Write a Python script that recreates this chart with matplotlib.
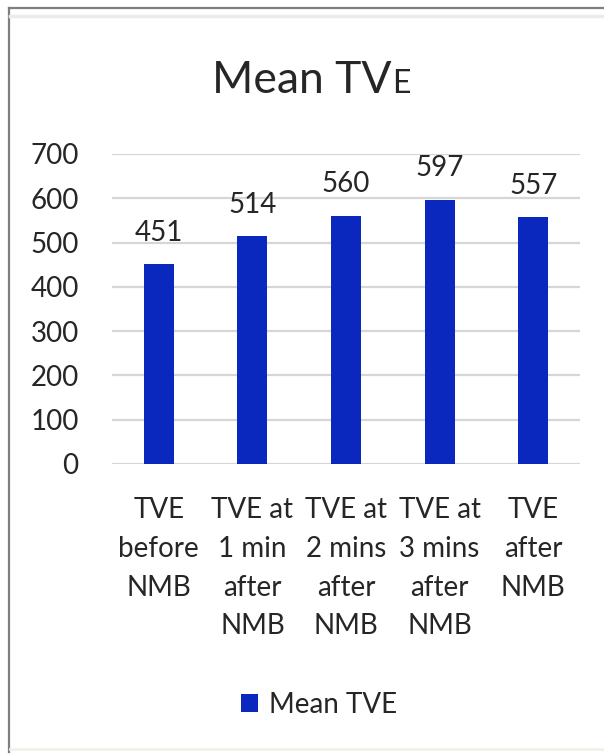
import matplotlib
matplotlib.use("Agg")
import matplotlib.pyplot as plt
from matplotlib.patches import Patch
from matplotlib.lines import Line2D

# Data
categories = [
    "TVE\nbefore\nNMB",
    "TVE at\n1 min\nafter\nNMB",
    "TVE at\n2 mins\nafter\nNMB",
    "TVE at\n3 mins\nafter\nNMB",
    "TVE\nafter\nNMB",
]
mean_tve = [451, 514, 560, 597, 557]
y_ticks = [0, 100, 200, 300, 400, 500, 600, 700]
series_name = "Mean TVE"

BAR_COLOR = "#0A28BE"
GRID_COLOR = "#D6D6D6"
TEXT_COLOR = "#262626"

plt.rcParams["font.family"] = ["Lato", "DejaVu Sans"]

W, H = 604, 754
fig = plt.figure(figsize=(W / 100, H / 100), dpi=100)
fig.patch.set_facecolor("white")

# Outer frame: grey top and left edges, faint shading lines
fig.add_artist(Line2D([9 / W, 1], [1 - 8 / H, 1 - 8 / H], color="#7F7F7F", lw=1.6))
fig.add_artist(Line2D([9 / W, 9 / W], [1 - 8 / H, 1 - 752 / H], color="#7F7F7F", lw=1.6))
fig.add_artist(Line2D([10 / W, 1], [1 - 16 / H, 1 - 16 / H], color="#EBEBEB", lw=2.5))
fig.add_artist(Line2D([10 / W, 1], [1 - 749 / H, 1 - 749 / H], color="#EEF3EA", lw=2.0))

ax = fig.add_axes([112 / W, 1 - 464 / H, (580 - 112) / W, (464 - 154) / H])
x = list(range(len(categories)))
bars = ax.bar(x, mean_tve, width=0.32, color=BAR_COLOR, zorder=3)

ax.set_xlim(-0.5, len(categories) - 0.5)
ax.set_ylim(0, 700)
ax.set_yticks(y_ticks)
ax.set_yticklabels([str(v) for v in y_ticks])
ax.yaxis.grid(True, color=GRID_COLOR, lw=1.6, zorder=0)
ax.set_axisbelow(True)
for s in ax.spines.values():
    s.set_visible(False)
ax.tick_params(axis="y", length=0, pad=24, labelsize=20, labelcolor=TEXT_COLOR)
ax.set_xticks(x)
ax.set_xticklabels(categories, linespacing=1.6)
ax.tick_params(axis="x", length=0, pad=24, labelsize=20, labelcolor=TEXT_COLOR)
ax.set_facecolor("none")

# Value labels above the bars
for xi, v in zip(x, mean_tve):
    ax.annotate(str(v), xy=(xi, v), xytext=(0, 17), textcoords="offset points",
                ha="center", va="baseline", fontsize=20, color=TEXT_COLOR)

# Title: "Mean TV" followed by a small-capital "E" on the same baseline
title_y = 1 - 93 / H
t = fig.text(212 / W, title_y, "Mean TV", fontsize=32, color=TEXT_COLOR,
             ha="left", va="baseline")
fig.canvas.draw()
bb = t.get_window_extent(renderer=fig.canvas.get_renderer())
fig.text(bb.x1 / (W) + 1 / W, title_y, "E", fontsize=23, color=TEXT_COLOR,
         ha="left", va="baseline")

# Legend
handle = Patch(facecolor=BAR_COLOR, edgecolor="none")
fig.legend([handle], [series_name], loc="center", bbox_to_anchor=(319 / W, 1 - 705 / H),
           frameon=False, fontsize=20, handlelength=0.6, handleheight=0.6,
           handletextpad=0.4, labelcolor=TEXT_COLOR)

fig.savefig("out.png", dpi=100, facecolor="white")
